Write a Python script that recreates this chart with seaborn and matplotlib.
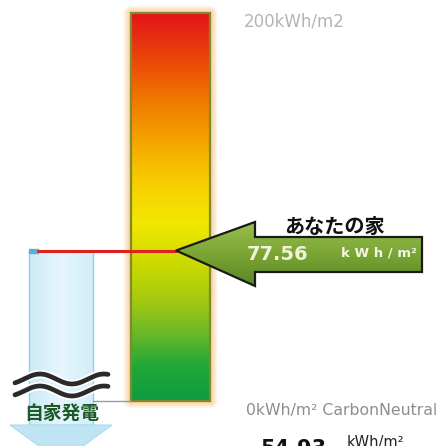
import numpy as np
import matplotlib
matplotlib.use("Agg")
import matplotlib.pyplot as plt
import seaborn as sns
from matplotlib.patches import Polygon, Rectangle
from matplotlib.colors import LinearSegmentedColormap

sns.set_theme(style="white")
plt.rcParams['font.family'] = ['Noto Sans CJK JP', 'DejaVu Sans']

# ---- data ----
scale_max = 200.0          # kWh/m2, top of the scale
your_home = 77.56          # kWh/m2
self_generation = 54.93    # kWh/m2
labels_top = "200kWh/m2"
labels_bottom = "0kWh/m² CarbonNeutral"
home_label = "あなたの家"
gen_label = "自家発電"
unit = "kWh/m²"
gradient_stops = [0.0, 0.09, 0.175, 0.26, 0.345, 0.454, 0.518, 0.603,
                  0.691, 0.776, 0.861, 1.0]
gradient_colors = ["#0e9a40", "#22a838", "#6cb828", "#a4ca10", "#c8d800",
                   "#f0e800", "#f6da00", "#f7c000", "#f49c00", "#f07a00",
                   "#ec5008", "#e31418"]

# ---- layout (pixel frame mapped to value axis) ----
W, H = 438, 446
bar_top_px, bar_bot_px = 13, 401
ppu = (bar_bot_px - bar_top_px) / scale_max


def v(py):
    return (bar_bot_px - py) / ppu


fig = plt.figure(figsize=(W / 100, H / 100), dpi=100)
ax = fig.add_axes([0, 0, 1, 1])
ax.set_facecolor("white")

# glow around bar
gx = np.linspace(120, 222, 204)
gy = np.linspace(5, 409, 404)
GX, GY = np.meshgrid(gx, gy)
dx = np.maximum(np.maximum(131 - GX, GX - 210), 0)
dy = np.maximum(np.maximum(bar_top_px - GY, GY - bar_bot_px), 0)
d = np.sqrt(dx ** 2 + dy ** 2)
alpha = np.clip(1 - d / 8.5, 0, 1) * 0.9
glow = np.zeros(GX.shape + (4,))
glow[..., 0] = 248 / 255
glow[..., 1] = 196 / 255
glow[..., 2] = 130 / 255
glow[..., 3] = alpha
ax.imshow(glow, extent=[120, 222, v(409), v(5)], aspect="auto", zorder=1,
          origin="upper")

# gradient bar
cmap = LinearSegmentedColormap.from_list("energy",
                                         list(zip(gradient_stops, gradient_colors)))
grad = np.linspace(0, 1, 256).reshape(-1, 1)
ax.imshow(grad, extent=[131, 210, 0, scale_max], aspect="auto", cmap=cmap,
          origin="lower", zorder=2)
ax.add_patch(Rectangle((131, 0), 79, scale_max, fill=False,
                       edgecolor="#7f8a2e", lw=1.6, zorder=3))

# self-generation column
col = np.linspace(0, 1, 64).reshape(1, -1)
bcmap = LinearSegmentedColormap.from_list("b", ["#cdebf7", "#e6f6fc", "#d3eef8"])
ax.imshow(col, extent=[29, 93, v(425), your_home], aspect="auto", cmap=bcmap,
          zorder=2)
ax.add_patch(Rectangle((29, v(425)), 64, your_home - v(425), fill=False,
                       edgecolor="#8fd0e6", lw=1.0, zorder=3))
ax.add_patch(Rectangle((29, your_home - 1.2), 9, 2.0, color="#5ab0d2", zorder=4))
# connector line at zero
ax.plot([93, 131], [0, 0], color="#9a9a9a", lw=1.0, zorder=3)

# down arrow head
tri = Polygon([[10, v(425)], [112, v(425)], [61, v(462)]], closed=True,
              facecolor="#bfe5f4", edgecolor="#a9dcef", lw=0.8, zorder=3)
ax.add_patch(tri)

# red line at your home value
sns.lineplot(x=[38, 176], y=[your_home, your_home], color="#e0201e", lw=2.2,
             ax=ax, zorder=5)

# waves
xs = np.linspace(15, 108, 200)
for c in (379, 391):
    ys = c - 5.0 * np.sin(2 * np.pi * (xs - 24) / 64)
    ax.plot(xs, v(ys), color="white", lw=6, zorder=5, solid_capstyle="round")
for c in (379, 391):
    ys = c - 5.0 * np.sin(2 * np.pi * (xs - 24) / 64)
    ax.plot(xs, v(ys), color="#2a2a2a", lw=3.4, zorder=6, solid_capstyle="round")

# green arrow
tip_y = your_home
arrow_pts = [[176, tip_y], [255, v(222)], [255, v(237)], [422, v(237)],
             [422, v(272)], [255, v(272)], [255, v(286)]]
arrow = Polygon(arrow_pts, closed=True, facecolor="none", edgecolor="none",
                zorder=6)
ax.add_patch(arrow)
acmap = LinearSegmentedColormap.from_list("g", ["#5a8624", "#7aa535", "#98c04c"])
agrad = np.linspace(0, 1, 128).reshape(-1, 1)
im = ax.imshow(agrad, extent=[176, 422, v(286), v(222)], aspect="auto",
               cmap=acmap, origin="lower", zorder=6)
im.set_clip_path(arrow)
ax.add_patch(Polygon(arrow_pts, closed=True, facecolor="none",
                     edgecolor="#1a1a1a", lw=1.6, zorder=7))

ax.text(278, v(254), f"{your_home:.2f}", color="#f2f2d8", fontsize=14,
        fontweight="bold", ha="center", va="center", zorder=8,
        family=["DejaVu Sans"])
ax.text(379, v(253), "k W h / m²", color="#f4f4e6", fontsize=9.5,
        fontweight="bold", ha="center", va="center", zorder=8,
        family=["DejaVu Sans"])
ax.text(334, v(226), home_label, color="#111111", fontsize=14.5,
        fontweight="bold", ha="center", va="center", zorder=8)

# scale labels
ax.text(244, v(22), labels_top, color="#b4b4b4", fontsize=12,
        ha="left", va="center", family=["DejaVu Sans"])
ax.text(246, v(410), labels_bottom, color="#8e8e8e", fontsize=11.3,
        ha="left", va="center", family=["DejaVu Sans"])

ax.text(62, v(413), gen_label, color="#1f5a26", fontsize=13.5,
        fontweight="bold", ha="center", va="center", zorder=8)

# self generation value (cut at bottom edge, as in the source)
ax.text(293, v(449), f"{self_generation:.2f}", color="#111111", fontsize=15,
        fontweight="bold", ha="center", va="center", family=["DejaVu Sans"])
ax.text(375, v(443), unit, color="#222222", fontsize=10.5,
        ha="center", va="center", family=["DejaVu Sans"])

ax.set_xlim(0, W)
ax.set_ylim(v(H), v(0))
ax.axis("off")
fig.savefig("out.png", dpi=100, facecolor="white")
